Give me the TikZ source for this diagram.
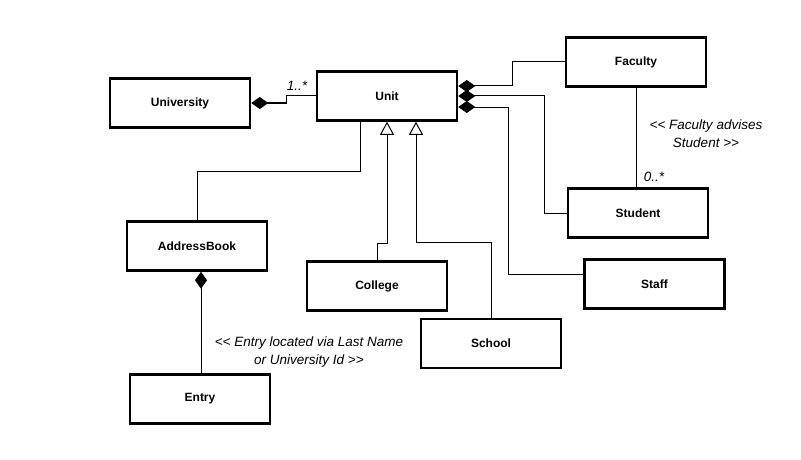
\documentclass[tikz,border=0pt]{standalone}
\usepackage{fontspec}
\setmainfont{Liberation Sans}
\usetikzlibrary{arrows.meta,calc}
\begin{document}
\begin{tikzpicture}[x=1pt,y=-1pt,
  cls/.style={draw,line width=2.5pt,minimum width=140pt,minimum height=49pt,inner sep=0pt,font=\fontsize{12}{14}\selectfont\bfseries},
  conn/.style={line width=1pt},
  comp/.style={conn,{Diamond[length=17pt,width=12pt]}-},
  gen/.style={conn,{Triangle[open,length=13pt,width=14pt,line width=1pt]}-},
  lbl/.style={font=\fontsize{13.5}{18}\selectfont\itshape,align=center,inner sep=0pt}]
\useasboundingbox (0,0) rectangle (801,460);
\node[cls] (university) at (180,103) {University};
\node[cls] (unit) at (387,96) {Unit};
\node[cls] (faculty) at (636,62) {Faculty};
\node[cls] (student) at (638,213) {Student};
\node[cls] (staff) at (654.5,284) {Staff};
\node[cls] (school) at (491,343.5) {School};
\node[cls] (college) at (377,286) {College};
\node[cls] (addressbook) at (197,246) {AddressBook};
\node[cls] (entry) at (200,399) {Entry};
% composition
\draw[comp] (university.east) -- ++(35,0) |- (unit.west);
\draw[comp] ($(unit.east)+(0,-10)$) -- ++(54,0) |- (faculty.west);
\draw[comp] ($(unit.east)+(0,0)$) -- ++(86,0) |- (student.west);
\draw[comp] ($(unit.east)+(0,11)$) -- ++(50,0) |- ($(staff.west)+(0,-10)$);
\draw[comp] ($(addressbook.south)+(4,0)$) coordinate (abs) -- (abs |- entry.north);
% association
\draw[conn] (faculty.south) -- (faculty.south |- student.north);
\draw[conn] ($(unit.south)+(-27,0)$) -- ++(0,50) -| (addressbook.north);
% generalization
\draw[gen] (unit.south) -- ++(0,122) -| (college.north);
\draw[gen] ($(unit.south)+(29,0)$) -- ++(0,121) -| (school.north);
% labels
\node[lbl] (m1) at (297,86) {1..*};
\node[lbl] (m2) at (654,177) {0..*};
\node[lbl] (fa) at (706,134) {{<}{<} Faculty advises\\Student {>}{>}};
\node[lbl] (el) at (309,352) {{<}{<} Entry located via Last Name\\or University Id {>}{>}};
\end{tikzpicture}
\end{document}
